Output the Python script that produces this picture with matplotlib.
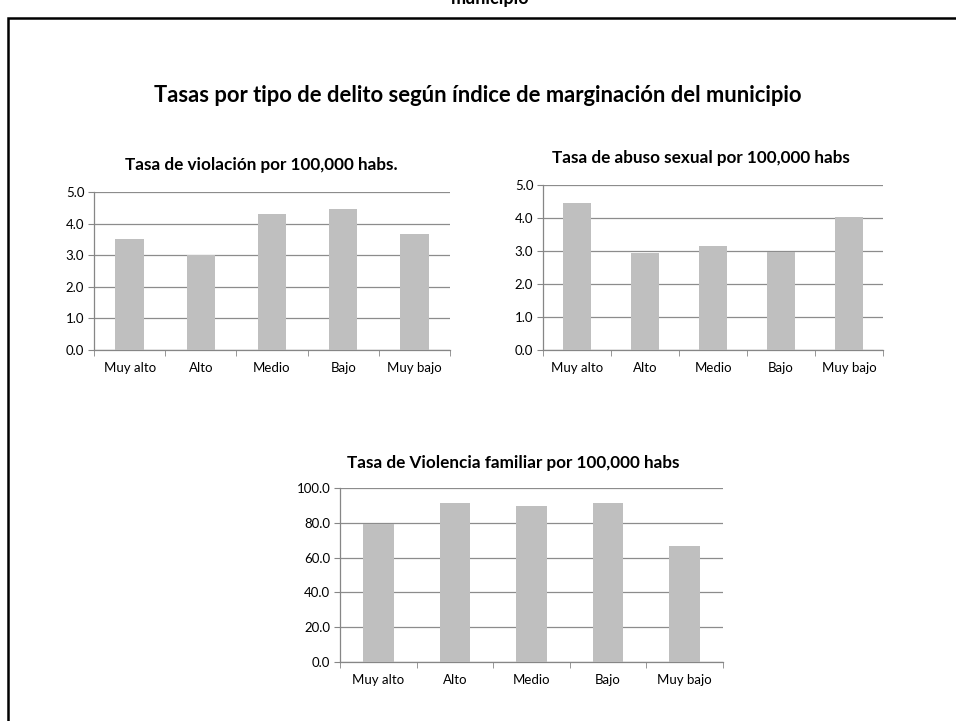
import matplotlib
matplotlib.use('Agg')
import matplotlib.pyplot as plt
from matplotlib.patches import Rectangle

plt.rcParams['font.family'] = ['Lato', 'DejaVu Sans']

categories = ['Muy alto', 'Alto', 'Medio', 'Bajo', 'Muy bajo']
violacion = [3.50, 3.00, 4.29, 4.45, 3.68]
abuso_sexual = [4.44, 2.95, 3.15, 2.98, 4.04]
violencia_familiar = [79.2, 91.5, 89.4, 91.5, 66.7]

main_title = 'Tasas por tipo de delito según índice de marginación del municipio'
titles = ['Tasa de violación por 100,000 habs.',
          'Tasa de abuso sexual por 100,000 habs',
          'Tasa de Violencia familiar por 100,000 habs']

W, H = 956, 721
fig = plt.figure(figsize=(W / 100, H / 100), dpi=100)


def px_axes(left, top, right, bottom):
    return fig.add_axes([left / W, 1 - bottom / H, (right - left) / W, (bottom - top) / H])


def bar_chart(ax, values, ymax, step):
    x = range(len(categories))
    ax.bar(x, values, width=0.4, color='#bfbfbf', zorder=3)
    ax.set_xlim(-0.5, len(categories) - 0.5)
    ax.set_ylim(0, ymax)
    ax.set_yticks([i * step for i in range(int(round(ymax / step)) + 1)])
    ax.yaxis.set_major_formatter(lambda v, p: f'{v:.1f}')
    ax.set_xticks(list(x))
    ax.set_xticklabels(categories)
    ax.set_xticks([i + 0.5 for i in range(-1, len(categories))], minor=True)
    ax.tick_params(axis='x', which='major', length=0, labelsize=9.5, pad=9)
    ax.tick_params(axis='x', which='minor', length=4, color='#868686', direction='out')
    ax.tick_params(axis='y', length=4, color='#868686', labelsize=9.5, pad=3)
    ax.grid(axis='y', color='#8c8c8c', linewidth=0.9, zorder=0)
    for s in ['top', 'right']:
        ax.spines[s].set_visible(False)
    for s in ['left', 'bottom']:
        ax.spines[s].set_color('#868686')
        ax.spines[s].set_linewidth(0.9)


ax1 = px_axes(94, 192, 450, 350)
bar_chart(ax1, violacion, 5, 1)
ax2 = px_axes(543, 185, 883, 350)
bar_chart(ax2, abuso_sexual, 5, 1)
ax3 = px_axes(340, 488, 723, 662)
bar_chart(ax3, violencia_familiar, 100, 20)

fig.text(261 / W, 1 - 165 / H, titles[0], ha='center', va='center', fontsize=12.3, fontweight='bold')
fig.text(701 / W, 1 - 158 / H, titles[1], ha='center', va='center', fontsize=12.3, fontweight='bold')
fig.text(513 / W, 1 - 463 / H, titles[2], ha='center', va='center', fontsize=12.3, fontweight='bold')
fig.text(478 / W, 1 - 95 / H, main_title, ha='center', va='center', fontsize=15.8, fontweight='bold')
fig.text(490 / W, 1 - 4 / H, 'municipio', ha='center', va='baseline', fontsize=13, fontweight='bold')

# outer frame (runs off the right and bottom edges)
fig.add_artist(Rectangle((8 / W, -0.05), 1.0, 1 - 18 / H + 0.05, transform=fig.transFigure,
                         fill=False, edgecolor='black', linewidth=1.8))

fig.savefig('out.png', dpi=100)
